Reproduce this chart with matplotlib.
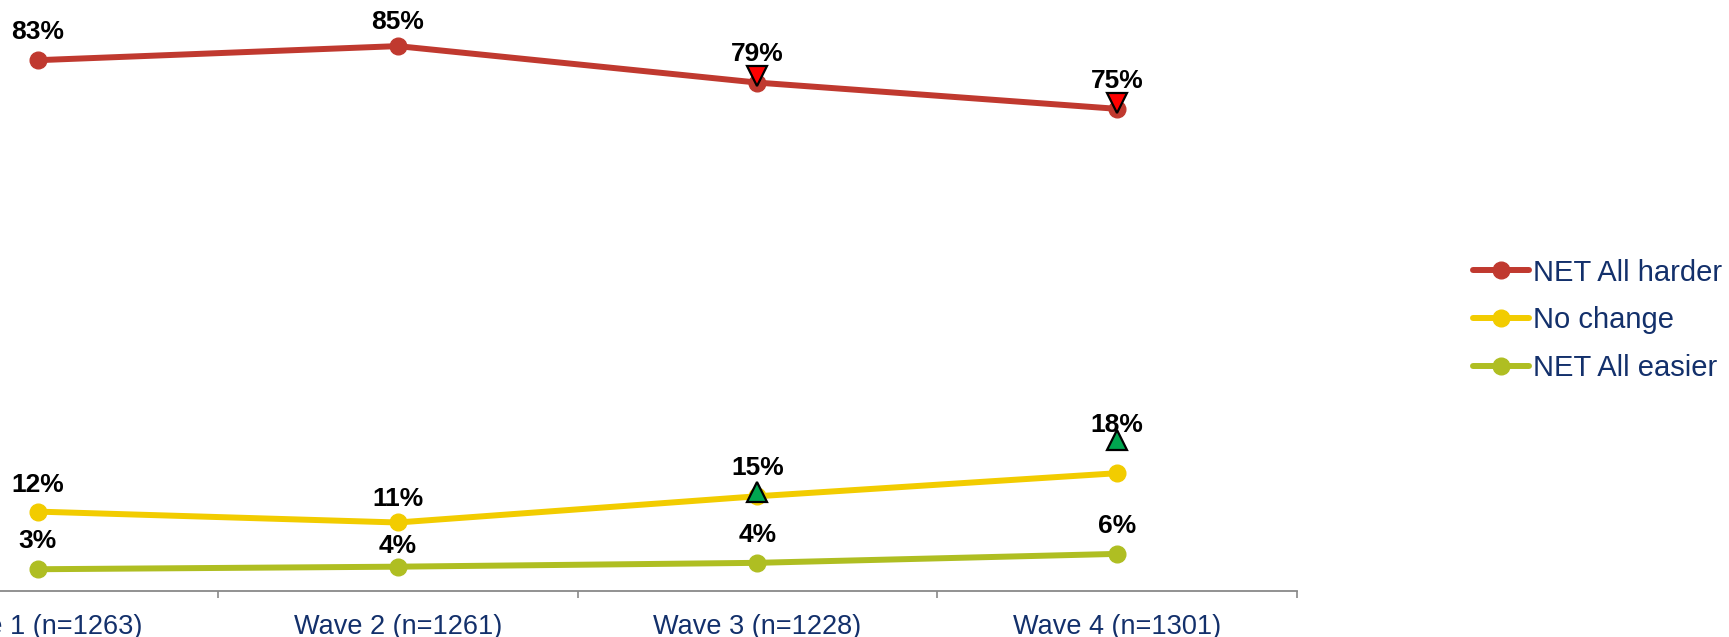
import matplotlib.pyplot as plt
from matplotlib.transforms import offset_copy

plt.rcParams['font.family'] = ['Liberation Sans', 'DejaVu Sans']

waves = ['Wave 1 (n=1263)', 'Wave 2 (n=1261)', 'Wave 3 (n=1228)', 'Wave 4 (n=1301)']
series_names = ['NET All harder', 'No change', 'NET All easier']
net_harder = [82.9, 85.1, 79.4, 75.3]
no_change = [12.4, 10.7, 14.8, 18.4]
net_easier = [3.4, 3.8, 4.4, 5.8]

# significance flags: (series index, wave index)
sig_down = [(0, 2), (0, 3)]
sig_up = [(1, 2), (1, 3)]

colors = ['#C0392F', '#F2CC00', '#AFBE22']
navy = '#13306B'

fig = plt.figure(figsize=(17.29, 6.37), dpi=100)
ax = fig.add_axes([-0.0821, 0.0722, 0.8323, 0.9278])

x = list(range(len(waves)))
all_series = [net_harder, no_change, net_easier]
for vals, name, c in zip(all_series, series_names, colors):
    ax.plot(x, vals, color=c, lw=4.3, marker='o', ms=12, label=name,
            solid_capstyle='round')

# data labels (points above the marker)
label_off = {(0, 1): 17.5, (1, 0): 19.3, (1, 1): 16.7, (1, 3): 35,
             (2, 1): 15}
for si, vals in enumerate(all_series):
    for i, v in enumerate(vals):
        off = label_off.get((si, i), 20.3)
        ax.annotate(f'{v:.0f}%', (i, v), xytext=(0, off), textcoords='offset points',
                    ha='center', va='center', fontsize=19, fontweight='bold', color='black')

# significance triangles
tri_off = {(0, 2): 5, (0, 3): 4.5, (1, 2): 3, (1, 3): 24}
for si, i in sig_down:
    tr = offset_copy(ax.transData, fig=fig, x=0, y=tri_off[(si, i)], units='points')
    ax.plot([i], [all_series[si][i]], marker='v', ms=15, color='#FF0000',
            mec='black', mew=1.6, transform=tr, zorder=5)
for si, i in sig_up:
    tr = offset_copy(ax.transData, fig=fig, x=0, y=tri_off[(si, i)], units='points')
    ax.plot([i], [all_series[si][i]], marker='^', ms=15, color='#00A650',
            mec='black', mew=1.6, transform=tr, zorder=5)

ax.set_xlim(-0.5, 3.5)
ax.set_ylim(0, 92.3)
ax.set_yticks([])
ax.set_xticks([-0.5, 0.5, 1.5, 2.5, 3.5])
ax.set_xticklabels([])
ax.set_xticks(x, minor=True)
ax.set_xticklabels(waves, minor=True)
ax.tick_params(axis='x', which='major', length=5, width=1.2, color='#898989', direction='out')
ax.tick_params(axis='x', which='minor', length=0, pad=16.5, labelsize=19.5, labelcolor=navy)
for s in ['top', 'right', 'left']:
    ax.spines[s].set_visible(False)
ax.spines['bottom'].set_color('#898989')
ax.spines['bottom'].set_linewidth(1.3)

fig.legend(loc='center left', bbox_to_anchor=(0.852, 0.497), frameon=False,
           fontsize=21, labelcolor=navy, handlelength=1.9, handletextpad=0.15,
           borderpad=0, borderaxespad=0, labelspacing=0.68)

fig.savefig('out.png', dpi=100)
